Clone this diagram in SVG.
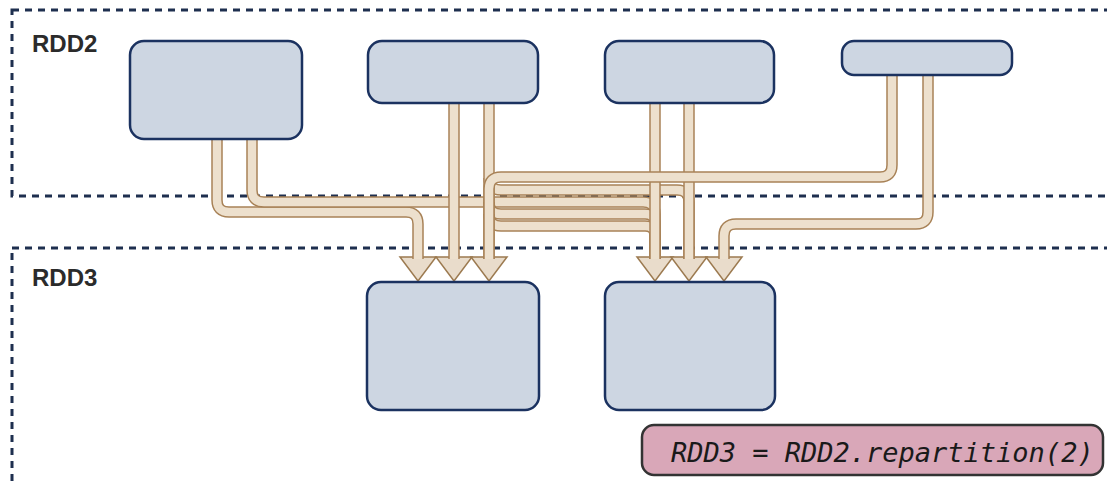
<svg xmlns="http://www.w3.org/2000/svg" xmlns:xlink="http://www.w3.org/1999/xlink" width="1107" height="482" viewBox="0 0 1107 482">
<style>
.zone{fill:none;stroke:#1e2f4f;stroke-width:3;stroke-dasharray:7 6}
.zlabel{font-family:"Liberation Sans",Arial,sans-serif;font-size:24px;font-weight:bold;fill:#2b2b2b}
.node{fill:#cdd6e2;stroke:#1b3260;stroke-width:2.5}
.po{fill:none;stroke:#a88257;stroke-width:11.5}
.pi{fill:none;stroke:#ede0cd;stroke-width:8.5}
.ah{fill:#e9dccb;stroke:#9c7a50;stroke-width:1.5;stroke-linejoin:miter}
.code{fill:#d9a7b8;stroke:#333;stroke-width:2.5}
.codetxt{font-family:"DejaVu Sans Mono","Liberation Mono",monospace;font-style:italic;font-size:27px;fill:#1a1a1a}
</style>
<defs>
<path id="arrow" d="M-18,0 L18,0 L0,24 Z"/>
<path id="p1" d="M217,138 V200 Q217,212 229,212 H406 Q418,212 418,224 V259"/>
<path id="p2" d="M252,138 V190 Q252,202 264,202 H643 Q655,202 655,214 V259"/>
<path id="b190" d="M489,178 Q489,190 501,190 H677 Q689,190 689,202 V259"/>
<path id="b214" d="M489,202 Q489,214 501,214 H645 Q655,214 655,224 V259"/>
<path id="b226" d="M489,214 Q489,226 501,226 H645 Q655,226 655,236 V259"/>
<path id="v454" d="M454,102 V259"/>
<path id="v489" d="M489,102 V259"/>
<path id="v655" d="M655,102 V259"/>
<path id="v689" d="M689,102 V259"/>
<path id="n4l" d="M892,74 V165 Q892,177 880,177 H501 Q489,177 489,189 V259"/>
<path id="n4r" d="M928,74 V212 Q928,224 916,224 H736 Q724,224 724,236 V259"/>
</defs>
<rect width="1107" height="482" fill="#ffffff"/>
<g id="rdd2-zone">
<rect class="zone" x="12" y="10" width="1110" height="186"/>
<text class="zlabel" x="32" y="52">RDD2</text>
</g>
<g id="rdd3-zone">
<rect class="zone" x="12" y="248" width="1110" height="300"/>
<text class="zlabel" x="32" y="286">RDD3</text>
</g>
<g id="connectors">
<use xlink:href="#arrow" class="ah" transform="translate(418,257)"/>
<use xlink:href="#arrow" class="ah" transform="translate(454,257)"/>
<use xlink:href="#arrow" class="ah" transform="translate(489,257)"/>
<use xlink:href="#arrow" class="ah" transform="translate(655,257)"/>
<use xlink:href="#arrow" class="ah" transform="translate(689,257)"/>
<use xlink:href="#arrow" class="ah" transform="translate(724,257)"/>
<use xlink:href="#p1" class="po"/><use xlink:href="#p1" class="pi"/>
<use xlink:href="#p2" class="po"/><use xlink:href="#p2" class="pi"/>
<use xlink:href="#b190" class="po"/><use xlink:href="#b190" class="pi"/>
<use xlink:href="#b214" class="po"/><use xlink:href="#b214" class="pi"/>
<use xlink:href="#b226" class="po"/><use xlink:href="#b226" class="pi"/>
<use xlink:href="#v454" class="po"/><use xlink:href="#v454" class="pi"/>
<use xlink:href="#v489" class="po"/><use xlink:href="#v489" class="pi"/>
<use xlink:href="#v655" class="po"/><use xlink:href="#v655" class="pi"/>
<use xlink:href="#v689" class="po"/><use xlink:href="#v689" class="pi"/>
<use xlink:href="#n4l" class="po"/><use xlink:href="#n4l" class="pi"/>
<use xlink:href="#n4r" class="po"/><use xlink:href="#n4r" class="pi"/>
</g>
<g id="rdd2-p1"><rect class="node" x="130" y="41" width="172" height="98" rx="14"/></g>
<g id="rdd2-p2"><rect class="node" x="368" y="41" width="170" height="62" rx="14"/></g>
<g id="rdd2-p3"><rect class="node" x="605" y="41" width="169" height="62" rx="14"/></g>
<g id="rdd2-p4"><rect class="node" x="842" y="41" width="170" height="34" rx="12"/></g>
<g id="rdd3-p1"><rect class="node" x="367" y="282" width="172" height="128" rx="14"/></g>
<g id="rdd3-p2"><rect class="node" x="605" y="282" width="170" height="128" rx="14"/></g>
<g id="code-label">
<rect class="code" x="642" y="425" width="461" height="50" rx="12"/>
<text class="codetxt" x="671" y="462">RDD3 = RDD2.repartition(2)</text>
</g>
</svg>
